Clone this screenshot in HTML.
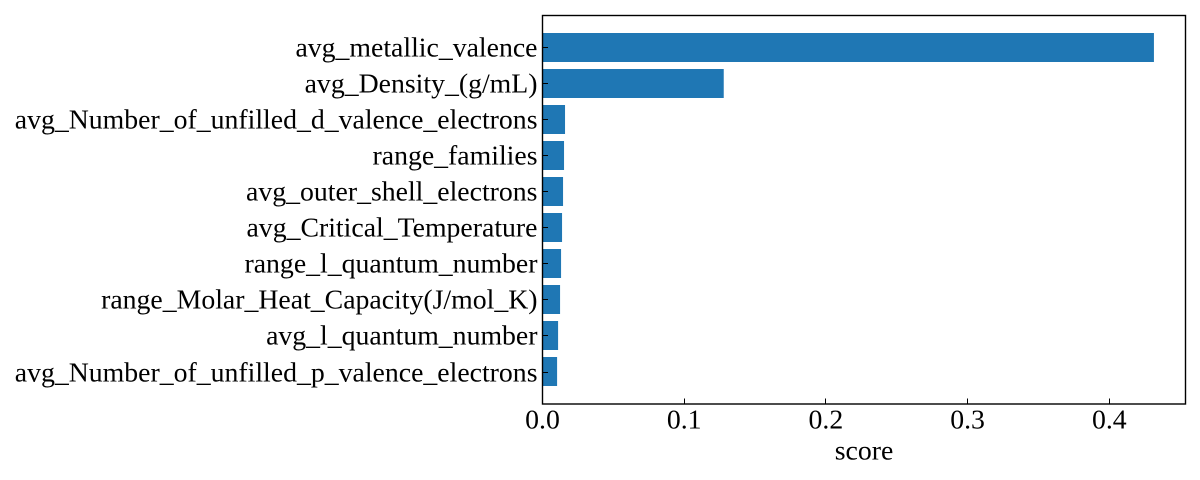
<!DOCTYPE html>
<html>
<head>
<meta charset="utf-8">
<style>
html,body{margin:0;padding:0;background:#fff;}
svg{display:block;}
text{font-family:"Liberation Serif",serif;fill:#000;}
</style>
</head>
<body>
<svg id="chart" width="1200" height="480" viewBox="0 0 1200 480" xmlns="http://www.w3.org/2000/svg"></svg>
<script>
const categories = ["avg_metallic_valence","avg_Density_(g/mL)","avg_Number_of_unfilled_d_valence_electrons","range_families","avg_outer_shell_electrons","avg_Critical_Temperature","range_l_quantum_number","range_Molar_Heat_Capacity(J/mol_K)","avg_l_quantum_number","avg_Number_of_unfilled_p_valence_electrons"];
const scores = [0.4315,0.1279,0.0159,0.0152,0.0145,0.0138,0.0131,0.0124,0.011,0.0103];
const xTicks = [0,0.1,0.2,0.3,0.4];
const xTickLabels = ["0.0","0.1","0.2","0.3","0.4"];
const xAxisTitle = "score";

const svg = document.getElementById('chart');
const NS = 'http://www.w3.org/2000/svg';
const plot = {left:542.5, right:1185.5, top:15.5, bottom:404};
const xScale = v => plot.left + v * 1417;
const crisp = p => Math.floor(p) + 0.5;
const yStep = 36.05;
const yCenter = i => 47.55 + i * yStep;
const barH = yStep * 0.8;
const labelSize = 27.78;

function mk(tag, attrs, text){
  const el = document.createElementNS(NS, tag);
  for (const k in attrs) el.setAttribute(k, attrs[k]);
  if (text !== undefined) el.textContent = text;
  svg.appendChild(el);
  return el;
}

categories.forEach((c, i) => {
  const bar = mk('rect', {x:plot.left, y:Math.floor(yCenter(i)-barH/2), width:xScale(scores[i])-plot.left, height:Math.round(barH), fill:'#1f77b4'});
  
  
  const tickY = crisp(yCenter(i));
  const tick = mk('line', {x1:plot.left, x2:plot.left+5.5, y1:tickY, y2:tickY, stroke:'#000', 'stroke-width':1});
  
  
  const label = mk('text', {x:plot.left-5, y:tickY+9, 'text-anchor':'end', 'font-size':labelSize}, c);
  
  
});

xTicks.forEach((t, i) => {
  const tick = mk('line', {x1:crisp(xScale(t)), x2:crisp(xScale(t)), y1:plot.bottom, y2:plot.bottom-5.5, stroke:'#000', 'stroke-width':1});
  
  
  const label = mk('text', {x:xScale(t), y:428.5, 'text-anchor':'middle', 'font-size':labelSize}, xTickLabels[i]);
  
  
});

const frame = mk('rect', {x:plot.left, y:plot.top, width:plot.right-plot.left, height:plot.bottom-plot.top, fill:'none', stroke:'#000', 'stroke-width':1.4});



const title = mk('text', {x:(plot.left+plot.right)/2, y:459.5, 'text-anchor':'middle', 'font-size':labelSize}, xAxisTitle);


</script>
</body>
</html>
